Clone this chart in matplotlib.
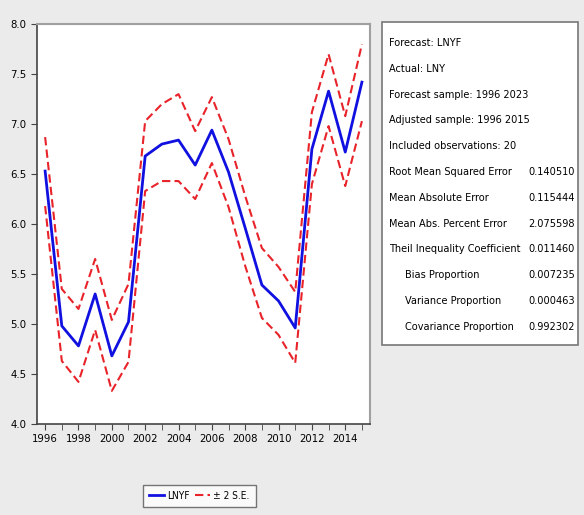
import matplotlib.pyplot as plt
from matplotlib import font_manager as fm
from matplotlib.ticker import MultipleLocator
from matplotlib.patches import Rectangle

years = list(range(1996, 2016))
lnyf = [6.53, 4.98, 4.78, 5.30, 4.68, 5.02, 6.68, 6.80, 6.84, 6.59,
        6.94, 6.52, 5.96, 5.39, 5.23, 4.96, 6.75, 7.33, 6.72, 7.42]
upper = [6.87, 5.35, 5.15, 5.65, 5.04, 5.40, 7.03, 7.20, 7.30, 6.93,
         7.27, 6.85, 6.28, 5.76, 5.57, 5.32, 7.12, 7.70, 7.08, 7.80]
lower = [6.18, 4.63, 4.42, 4.94, 4.33, 4.62, 6.33, 6.43, 6.43, 6.25,
         6.61, 6.17, 5.58, 5.06, 4.89, 4.61, 6.40, 6.98, 6.38, 7.03]

stat_names = ["Forecast: LNYF", "Actual: LNY", "Forecast sample: 1996 2023",
              "Adjusted sample: 1996 2015", "Included observations: 20",
              "Root Mean Squared Error", "Mean Absolute Error",
              "Mean Abs. Percent Error", "Theil Inequality Coefficient",
              "Bias Proportion", "Variance Proportion",
              "Covariance Proportion"]
stat_indent = [0, 0, 0, 0, 0, 0, 0, 0, 0, 1, 1, 1]
stat_values = ["", "", "", "", "", "0.140510", "0.115444", "2.075598",
               "0.011460", "0.007235", "0.000463", "0.992302"]

# look for any narrow / condensed face
narrow = None
for f in fm.fontManager.ttflist:
    st = f.stretch
    is_narrow = ('Narrow' in f.name or 'Condensed' in f.name or
                 st in ('condensed', 'semi-condensed', 'extra-condensed') or
                 (isinstance(st, int) and st < 500))
    if is_narrow and f.weight in (400, 'normal', 'regular') and f.style == 'normal':
        narrow = f
        break

if narrow is not None:
    prop = fm.FontProperties(fname=narrow.fname)
    fs = 7.8
else:
    prop = fm.FontProperties(family='Liberation Sans')
    fs = 7.2

def fp(size):
    p = prop.copy()
    p.set_size(size)
    return p

fig = plt.figure(figsize=(5.84, 5.15), dpi=100)
fig.patch.set_facecolor('#ebebeb')

ax = fig.add_axes([0.063, 0.177, 0.571, 0.776])
ax.plot(years, lnyf, color='#1010e0', lw=2, label='LNYF')
ax.plot(years, upper, color='#e8232a', lw=1.5, ls=(0, (4, 2)), label='± 2 S.E.')
ax.plot(years, lower, color='#e8232a', lw=1.5, ls=(0, (4, 2)))

ax.set_xlim(1995.5, 2015.5)
ax.set_ylim(4.0, 8.0)
ax.xaxis.set_major_locator(MultipleLocator(2))
ax.xaxis.set_minor_locator(MultipleLocator(1))
ax.yaxis.set_major_locator(MultipleLocator(0.5))
ax.yaxis.set_major_formatter(plt.FuncFormatter(lambda v, p: f"{v:.1f}"))
ax.tick_params(axis='both', color='#444444', direction='out', length=4)
ax.tick_params(axis='x', which='minor', length=4, color='#444444')
for lab in ax.get_xticklabels() + ax.get_yticklabels():
    lab.set_fontproperties(fp(fs + 0.3))
for s in ['left', 'bottom']:
    ax.spines[s].set_color('#444444')
    ax.spines[s].set_linewidth(1.2)
for s in ['top', 'right']:
    ax.spines[s].set_color('#a0a0a0')
    ax.spines[s].set_linewidth(1.5)

leg = fig.legend(loc='lower left', bbox_to_anchor=(143 / 584, 1 - 507 / 515),
                 ncol=2, prop=fp(fs - 0.5), frameon=True, fancybox=False,
                 handlelength=1.5, handletextpad=0.3, columnspacing=0.5,
                 borderpad=0.6, borderaxespad=0)
leg.get_frame().set_edgecolor('#555555')
leg.get_frame().set_linewidth(1)

box = Rectangle((382 / 584, 1 - 345 / 515), 196 / 584, 323 / 515,
                transform=fig.transFigure, facecolor='white',
                edgecolor='#777777', lw=1.2)
fig.patches.append(box)

for i, (name, val) in enumerate(zip(stat_names, stat_values)):
    y = 1 - (43 + i * 25.8) / 515
    x = (389 + 16 * stat_indent[i]) / 584
    fig.text(x, y, name, fontproperties=fp(fs), va='center', ha='left')
    if val:
        fig.text(528 / 584, y, val, fontproperties=fp(fs), va='center', ha='left')

fig.savefig('out.png', dpi=100, facecolor=fig.get_facecolor())
